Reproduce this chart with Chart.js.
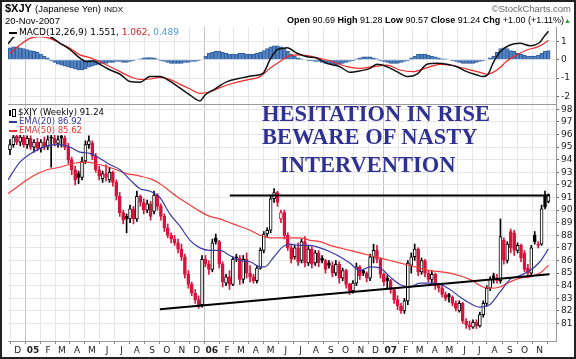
<!DOCTYPE html>
<html>
<head>
<meta charset="utf-8">
<script src="https://cdn.jsdelivr.net/npm/chart.js@4.4.1/dist/chart.umd.min.js"></script>
<style>
  body { margin: 0; background: #fff; }
  #wrap { position: relative; width: 576px; height: 359px; overflow: hidden; background: #fff; }
  canvas { position: absolute; left: 0; top: 0; }
  .txt { position: absolute; white-space: nowrap; font-family: "Liberation Sans", Arial, sans-serif; color: #000; }
  .leg { position: absolute; left: 9px; white-space: nowrap; font-family: "DejaVu Sans", Verdana, sans-serif;
         font-size: 8.5px; line-height: 9px; background: #fff; padding-right: 2px; }
  .ln { display: inline-block; width: 8px; height: 0; border-top: 2px solid #000; vertical-align: middle; margin-right: 2px; }
  .note { position: absolute; white-space: nowrap; font-family: "Liberation Serif", "Times New Roman", serif;
          font-weight: bold; font-size: 22.5px; line-height: 22.5px; color: #2e3192; }
  #frame { position: absolute; left: 0; top: 0; width: 572px; height: 355px; border: 2px solid #222; pointer-events: none; }
</style>
</head>
<body>
<div id="wrap">
  <canvas id="macdChart" width="576" height="359"></canvas>
  <canvas id="priceChart" width="576" height="359"></canvas>

  <div class="txt" style="left:5px; top:2px; font-size:11px;"><b>$XJY</b> <span style="font-size:9.5px">(Japanese Yen)</span> <span style="font-size:8px">INDX</span></div>
  <div class="txt" style="right:5px; top:3px; font-size:9.5px; color:#666;">&copy;StockCharts.com</div>
  <div class="txt" style="left:5px; top:15px; font-size:9.5px;">20-Nov-2007</div>
  <div class="txt" style="right:5px; top:15px; font-size:9px;"><b>Open</b> 90.69 <b>High</b> 91.28 <b>Low</b> 90.57 <b>Close</b> 91.24 <b>Chg</b> +1.00 (+1.11%)<span style="color:#2a9a2a; font-size:7px;">&#9650;</span></div>

  <div class="leg" style="top:28px; font-size:9px;"><span class="ln"></span>MACD(12,26,9) 1.551, <span style="color:#e02020">1.062,</span> <span style="color:#4a9ad8">0.489</span></div>

  <div class="leg" style="top:108px;"><span style="display:inline-block;width:2px;height:6px;background:#000;margin-right:1px;vertical-align:middle"></span><span style="display:inline-block;width:2px;height:6px;border:1px solid #000;margin-right:2px;vertical-align:middle"></span>$XJY (Weekly) 91.24</div>
  <div class="leg" style="top:117px; color:#33339a;"><span class="ln" style="border-color:#33339a"></span>EMA(20) 86.92</div>
  <div class="leg" style="top:126px; color:#f03030;"><span class="ln" style="border-color:#f03030"></span>EMA(50) 85.62</div>

  <div class="note" style="left:262px; top:102.7px;">HESITATION IN RISE</div>
  <div class="note" style="left:262px; top:126px;">BEWARE OF NASTY</div>
  <div class="note" style="left:280px; top:154.3px;">INTERVENTION</div>

  <div id="frame"></div>
</div>
<script>
// weekly bars start with the week of 15-Nov-2004, last bar is the week of 19-Nov-2007
const weekStart = Date.UTC(2004, 10, 15);
const monthLabels = ['D','05','F','M','A','M','J','J','A','S','O','N',
                     'D','06','F','M','A','M','J','J','A','S','O','N',
                     'D','07','F','M','A','M','J','J','A','S','O','N'];
const priceTicks = [81,82,83,84,85,86,87,88,89,90,91,92,93,94,95,96,97,98];
const macdTicks = [-2, -1, 0, 1];

// weekly OHLC
const opens = [94.8,95.2,95.9,95.4,95.8,95.2,95.7,95.0,95.4,94.9,95.4,95.0,95.8,95.7,95.3,95.9,95.7,95.0,94.0,93.2,
  92.9,92.6,93.9,95.2,95.3,94.3,93.2,92.5,92.9,92.4,93.0,92.2,91.1,89.8,89.5,89.3,90.1,89.3,91.1,90.6,
  90.0,90.5,89.9,91.2,90.3,89.5,88.6,88.0,87.7,87.4,86.9,86.3,84.9,84.1,83.4,82.9,82.5,86.1,85.7,85.3,
  87.8,87.5,85.7,84.2,84.7,84.1,86.3,86.2,84.5,86.1,85.0,84.7,84.4,85.4,86.8,88.1,88.4,90.9,91.4,89.3,
  89.8,88.0,87.0,86.3,87.0,86.0,87.5,85.8,86.9,85.8,86.6,86.2,86.0,85.8,85.6,85.0,85.7,84.6,85.2,84.1,
  83.6,84.2,85.5,85.2,85.0,84.6,86.3,86.8,86.1,84.9,84.6,84.4,83.7,82.9,82.4,82.0,82.8,85.6,86.3,86.9,
  85.1,86.0,85.0,84.5,84.9,84.0,83.8,83.3,83.3,83.1,82.6,82.0,82.6,81.2,80.9,80.7,81.1,80.8,81.7,82.6,
  83.8,84.8,84.6,84.4,87.6,86.0,88.3,88.2,86.8,87.2,86.6,85.4,85.0,88.0,87.3,87.3,91.2,90.69];
const highs = [95.6,96.0,96.3,96.0,96.1,95.9,95.9,95.6,95.7,95.6,95.8,95.9,96.0,96.1,95.9,96.0,95.9,95.3,94.2,93.5,
  93.1,94.2,95.5,95.9,95.5,94.5,93.5,93.1,93.6,93.4,93.1,92.4,91.4,90.0,89.7,90.4,90.3,91.5,91.2,90.9,
  90.8,90.7,91.5,91.3,90.5,89.7,88.9,88.2,88.0,87.7,87.3,86.5,85.2,84.3,83.7,83.2,86.4,86.4,86.0,87.7,
  88.1,87.6,85.9,84.9,85.2,86.3,86.5,86.4,86.4,86.6,85.6,84.9,85.6,87.0,88.3,88.6,91.2,91.7,91.5,90.0,
  90.0,88.2,87.3,87.2,87.4,87.7,87.9,87.2,87.1,86.8,86.8,86.4,86.1,86.0,85.9,86.0,85.9,85.4,85.3,84.2,
  84.4,85.8,85.6,85.3,85.1,86.5,87.3,87.2,86.2,85.0,84.8,84.5,83.8,83.2,82.6,83.0,86.0,86.6,87.3,87.0,
  86.2,86.1,85.2,85.2,85.0,84.2,84.0,83.5,83.4,83.2,82.8,82.8,82.7,81.4,81.2,81.3,81.3,81.9,82.8,84.0,
  84.7,85.0,84.9,89.3,87.8,87.5,88.5,88.4,87.4,87.3,86.8,85.7,87.2,88.3,87.5,90.4,91.5,91.28];
const lows = [94.4,95.0,95.2,95.1,95.0,94.9,94.8,94.6,94.7,94.6,94.8,94.8,93.4,95.1,95.0,95.0,94.8,93.7,92.8,92.0,
  92.1,92.4,93.7,94.9,94.0,93.0,92.4,92.2,92.3,92.2,91.9,90.8,89.5,88.9,88.2,89.0,88.9,89.1,90.3,89.7,
  89.8,89.2,89.7,90.0,89.2,88.3,87.8,87.4,87.2,86.6,86.0,84.6,83.8,83.2,82.6,82.2,82.3,85.5,84.9,85.1,
  87.3,85.4,83.9,84.0,83.7,84.0,85.9,84.1,84.2,84.6,84.3,84.2,84.2,85.3,86.6,87.9,88.2,90.6,90.3,89.0,
  87.7,86.8,85.8,86.1,85.6,85.8,85.5,85.6,85.4,85.6,85.5,85.8,85.0,85.4,84.7,84.8,84.2,84.4,83.8,83.3,
  83.4,84.0,84.5,84.8,84.3,84.4,85.8,85.8,84.6,84.0,83.8,83.4,82.6,82.1,81.8,81.8,82.5,85.0,86.0,84.8,
  84.9,84.7,84.3,84.2,83.7,83.5,83.1,82.8,82.7,82.4,82.0,81.9,81.0,80.6,80.5,80.6,80.6,80.7,81.5,82.4,
  83.6,84.2,84.2,84.2,85.7,85.8,86.6,86.4,86.6,85.9,85.1,84.8,84.8,87.3,87.0,87.2,90.1,90.57];
const closes = [95.2,95.8,95.4,95.8,95.2,95.7,95.0,95.4,94.9,95.4,95.0,95.6,95.7,95.3,95.6,95.7,95.0,94.0,93.2,92.4,
  92.6,93.9,95.2,95.5,94.3,93.2,92.7,92.9,92.6,93.0,92.2,91.1,89.8,89.2,89.3,90.1,89.3,91.1,90.6,90.0,
  90.5,89.5,91.2,90.3,89.5,88.6,88.0,87.7,87.4,86.9,86.3,84.9,84.1,83.4,82.9,82.5,86.1,85.7,85.3,87.4,
  87.5,85.7,84.3,84.7,84.1,86.1,86.2,84.5,86.1,85.0,84.7,84.4,85.4,86.8,88.1,88.4,90.9,91.4,90.6,89.8,
  88.0,87.0,86.1,87.0,85.9,87.5,85.8,86.9,85.7,86.6,85.8,86.0,85.3,85.6,85.0,85.7,84.6,85.2,84.1,83.6,
  84.2,85.5,84.8,85.0,84.6,86.3,86.8,86.1,84.9,84.3,84.4,83.7,82.9,82.4,82.0,82.8,85.8,86.3,86.9,85.1,
  86.0,85.0,84.5,84.9,84.0,83.8,83.3,83.0,83.1,82.6,82.2,82.6,81.2,80.9,80.7,81.1,80.8,81.7,82.6,83.8,
  84.5,84.6,84.4,87.9,86.0,87.3,87.0,86.8,87.2,86.2,85.3,85.0,87.0,87.5,87.2,90.1,90.24,91.24];

// moving averages at the given weeks
const ema20Weeks = [-0.6,2.9,6.7,10.8,14.6,17.5,20.4,23.3,26.2,29.2,32.1,35,37.9,40.8,43.7,46.6,49.6,52.5,55.4,58.3,
  61.2,64.1,67.1,70,72.9,74.3,76.7,79.6,81.6,84.5,87.5,90.4,93.3,96.2,99.1,102,105,107.9,110.8,113.7,
  116.6,119.5,122.4,125.4,128.3,131.2,134.1,137,139.9,142.9,145.8,148.7,151.6,154.5,157];
const ema20 = [92.4,93.8,94.6,95.1,95.2,95.0,94.6,94.5,94.1,93.6,93.2,92.4,91.7,91.5,91.0,89.7,88.7,87.6,87.0,86.8,
  86.8,86.4,86.0,85.9,85.5,85.5,86.2,87.1,87.3,87.2,87.2,87.0,86.7,86.3,85.8,85.2,85.5,85.4,84.7,84.1,
  83.9,84.2,84.2,84.1,83.7,83.1,82.6,82.3,82.5,83.5,84.5,84.8,85.2,85.9,86.92];
const ema50Weeks = [-0.6,2.9,6.7,10.8,14.6,18.4,22.4,26.2,30,34.1,37.9,41.7,43.7,46.6,49.6,52.5,55.4,58.3,61.2,64.1,
  67.1,70,72.9,75.8,78.7,81.6,84.5,87.5,90.4,93.3,96.2,99.1,105,110.8,116.6,122.4,128.3,134.1,137.9,139.9,
  142.9,145.8,148.7,151.6,154.5,157];
const ema50 = [91.3,92.0,92.7,93.2,93.4,93.7,93.8,93.6,93.3,92.9,92.7,92.4,92.1,91.5,90.9,90.4,89.9,89.5,89.3,89.0,
  88.7,88.4,88.0,87.8,87.8,87.8,87.8,87.6,87.5,87.2,87.0,86.8,86.4,86.0,85.6,85.2,85.0,84.5,83.9,83.8,
  83.9,84.3,84.6,84.7,85.0,85.62];

// trend lines drawn on the chart
const resistWeeks = [64.1, 157.3];
const resistLine = [91.15, 91.15];
const supportWeeks = [43.7, 157.3];
const supportLine = [82.13, 84.9];

// MACD panel
const macdWeeks = [-0.6,0.9,2.9,5.8,8.7,11.7,14.6,17.5,20.4,22.4,24.2,26.2,29.2,32.1,35,37.9,40.8,43.7,46.6,49.6,
  52.5,55.4,56.9,59.2,63.3,67.1,70.8,73.8,75.8,77.8,79.6,80.8,83.7,86.6,89.5,92.4,96.2,99.1,102,105,
  107,109.9,112.8,116,118.7,121.6,124.5,127.4,130.3,133.2,136.2,137.9,139.4,140.8,142.9,145.8,148.7,151.6,154.5,155.5,157];
const macdLine = [0.85,1.2,1.45,1.62,1.55,1.26,0.89,0.55,0.08,-0.11,-0.07,-0.25,-0.56,-0.79,-1.19,-1.23,-0.92,-0.92,-1.16,-1.55,
  -1.92,-2.24,-1.92,-1.65,-1.19,-1.01,-0.87,-0.74,0,0.53,0.62,0.65,0.35,0.16,0.08,-0.2,-0.38,-0.68,-0.61,-0.47,
  -0.25,-0.38,-0.65,-0.92,-0.79,-0.25,-0.2,-0.25,-0.38,-0.65,-0.83,-0.92,-0.79,-0.2,0.43,0.80,0.89,0.76,0.95,1.2,1.551];
const signalWeeks = [0,2.9,5.8,8.7,11.7,14.6,17.5,20.4,23.3,26.2,29.2,32.1,35,37.9,40.8,43.7,46.6,49.6,52.5,55.4,
  58.3,61.2,65,69.1,72.9,75.8,78.7,81.6,84.5,88.3,93.3,98.3,102,105.8,109.9,113.7,117.5,121.6,125.4,129.2,
  133.2,137,139.1,142,144.9,147.8,150.7,153.6,155.5,157];
const signalLine = [0.35,0.8,1.16,1.25,1.16,0.89,0.62,0.26,0.11,-0.11,-0.38,-0.65,-0.92,-1.07,-1.05,-0.96,-1.07,-1.34,-1.59,-1.83,
  -1.74,-1.52,-1.28,-1.10,-0.92,-0.47,-0.1,0.22,0.26,0.16,-0.07,-0.38,-0.47,-0.38,-0.29,-0.56,-0.65,-0.43,-0.25,-0.33,
  -0.51,-0.69,-0.79,-0.56,-0.07,0.26,0.53,0.68,0.85,1.062];
const histogram = [0.65,0.7,0.7,0.65,0.6,0.55,0.5,0.45,0.4,0.3,0.2,0.1,
  -0.05,-0.15,-0.25,-0.3,-0.35,-0.4,-0.45,-0.5,-0.55,-0.55,-0.5,-0.4,-0.35,-0.3,-0.25,
  -0.2,-0.2,-0.15,-0.15,-0.1,-0.1,-0.15,-0.15,-0.1,-0.05,0,0.05,
  0.1,0.12,0.12,0.1,0.05,
  -0.05,-0.1,-0.15,-0.2,-0.2,-0.2,-0.2,-0.15,-0.15,-0.1,-0.1,-0.05,0,
  0.2,0.35,0.4,0.45,0.45,0.4,0.35,0.3,0.3,0.3,0.35,0.35,0.3,0.3,0.3,0.35,0.4,0.5,
  0.6,0.7,0.75,0.75,0.7,0.6,0.45,
  0.3,0.2,0.1,
  0.05,0,-0.05,-0.05,-0.1,-0.1,
  -0.15,-0.2,-0.25,-0.25,-0.3,-0.25,-0.2,-0.15,-0.1,-0.05,
  0.05,0.1,0.15,0.15,
  0.15,0.1,0.05,-0.05,-0.1,
  -0.15,-0.2,-0.2,-0.2,-0.15,-0.1,-0.05,
  0.1,0.2,0.3,0.3,0.3,0.25,0.2,0.15,
  0.1,0.05,0.05,0,-0.05,
  -0.1,-0.15,-0.2,-0.2,-0.2,-0.2,-0.15,-0.1,-0.05,
  0,0.1,0.2,
  0.4,0.6,0.65,0.6,
  0.5,0.45,0.35,0.3,
  0.25,0.2,0.2,0.2,0.25,0.35,
  0.45,0.489];

const RED = '#d8143c';
const FONT = '"DejaVu Sans", Verdana, sans-serif';
const xMin = -0.58, xMax = 159.2;

// where each month starts, in weeks from the first bar
const monthWeeks = monthLabels.map((lab, k) => (Date.UTC(2004, 11 + k, 1) - weekStart) / (7 * 864e5));

function xy(weeks, vals) {
  return weeks.map((w, i) => ({ x: w, y: vals[i] }));
}

function weekAxis(showLabels) {
  return {
    type: 'linear', min: xMin, max: xMax, offset: false,
    afterBuildTicks: axis => { axis.ticks = monthWeeks.map(v => ({ value: v })); },
    afterFit: s => { s.height = showLabels ? 18 : 0; },
    grid: {
      color: ctx => (monthLabels[ctx.index] || '').length === 2 ? '#c4c4c4' : '#e6e6e6',
      drawTicks: showLabels, tickLength: 3, tickColor: '#888'
    },
    border: { color: '#999' },
    ticks: {
      display: showLabels, autoSkip: false, maxRotation: 0, padding: 1, color: '#222',
      callback: (v, i) => monthLabels[i],
      font: ctx => ({ family: FONT, size: 9, weight: (monthLabels[ctx.index] || '').length === 2 ? 'bold' : 'normal' })
    }
  };
}

// price panel
const candleColor = closes.map((c, i) => (i > 0 && c < closes[i - 1]) ? RED : '#000');
const bodyFill = closes.map((c, i) => c < opens[i] ? candleColor[i] : '#fff');

new Chart(document.getElementById('priceChart'), {
  type: 'bar',
  data: {
    datasets: [
      { type: 'line', data: xy(resistWeeks, resistLine), borderColor: '#000', borderWidth: 2, pointRadius: 0, order: 0 },
      { type: 'line', data: xy(supportWeeks, supportLine), borderColor: '#000', borderWidth: 2, pointRadius: 0, order: 0 },
      { type: 'line', data: xy(ema20Weeks, ema20), borderColor: '#3a3aa8', borderWidth: 1.2, pointRadius: 0,
        cubicInterpolationMode: 'monotone', order: 1 },
      { type: 'line', data: xy(ema50Weeks, ema50), borderColor: '#f23a3a', borderWidth: 1.2, pointRadius: 0,
        cubicInterpolationMode: 'monotone', order: 1 },
      { data: opens.map((o, i) => ({ x: i, y: [Math.min(o, closes[i]), Math.max(o, closes[i])] })),
        backgroundColor: bodyFill, borderColor: candleColor, borderWidth: 1, borderSkipped: false,
        barThickness: 3, minBarLength: 1, grouped: false, order: 2 },
      { data: highs.map((h, i) => ({ x: i, y: [lows[i], h] })),
        backgroundColor: candleColor, barThickness: 1, grouped: false, order: 3 }
    ]
  },
  options: {
    responsive: false, animation: false, events: [],
    layout: { padding: { top: 105, left: 8, right: 0, bottom: 0 } },
    plugins: { legend: { display: false }, tooltip: { enabled: false } },
    scales: {
      x: weekAxis(true),
      y: {
        position: 'right', min: 79.611, max: 98.341,
        afterBuildTicks: axis => { axis.ticks = priceTicks.map(v => ({ value: v })); },
        afterFit: s => { s.width = 20; },
        grid: { color: '#e6e6e6', tickLength: 3, tickColor: '#666' },
        border: { color: '#999' },
        ticks: { padding: 2, color: '#222', font: { family: FONT, size: 9 } }
      }
    }
  }
});

// MACD panel
new Chart(document.getElementById('macdChart'), {
  type: 'bar',
  data: {
    datasets: [
      { type: 'line', data: xy(macdWeeks, macdLine), borderColor: '#111', borderWidth: 1.5, pointRadius: 0,
        cubicInterpolationMode: 'monotone', order: 1 },
      { type: 'line', data: xy(signalWeeks, signalLine), borderColor: '#f02828', borderWidth: 1.2, pointRadius: 0,
        cubicInterpolationMode: 'monotone', order: 2 },
      { data: histogram.map((h, i) => ({ x: i, y: h })), backgroundColor: '#5585c4', borderColor: '#2f5d9c',
        borderWidth: 1, barPercentage: 1, categoryPercentage: 1, order: 3 }
    ]
  },
  options: {
    responsive: false, animation: false, events: [],
    layout: { padding: { top: 27, left: 8, right: 0, bottom: 255 } },
    plugins: { legend: { display: false }, tooltip: { enabled: false } },
    scales: {
      x: weekAxis(false),
      y: {
        position: 'right', min: -2.408, max: 1.777,
        afterBuildTicks: axis => { axis.ticks = macdTicks.map(v => ({ value: v })); },
        afterFit: s => { s.width = 20; },
        grid: { color: '#e6e6e6', tickLength: 3, tickColor: '#666' },
        border: { color: '#999' },
        ticks: { padding: 2, color: '#222', font: { family: FONT, size: 9 } }
      }
    }
  }
});
</script>
</body>
</html>
